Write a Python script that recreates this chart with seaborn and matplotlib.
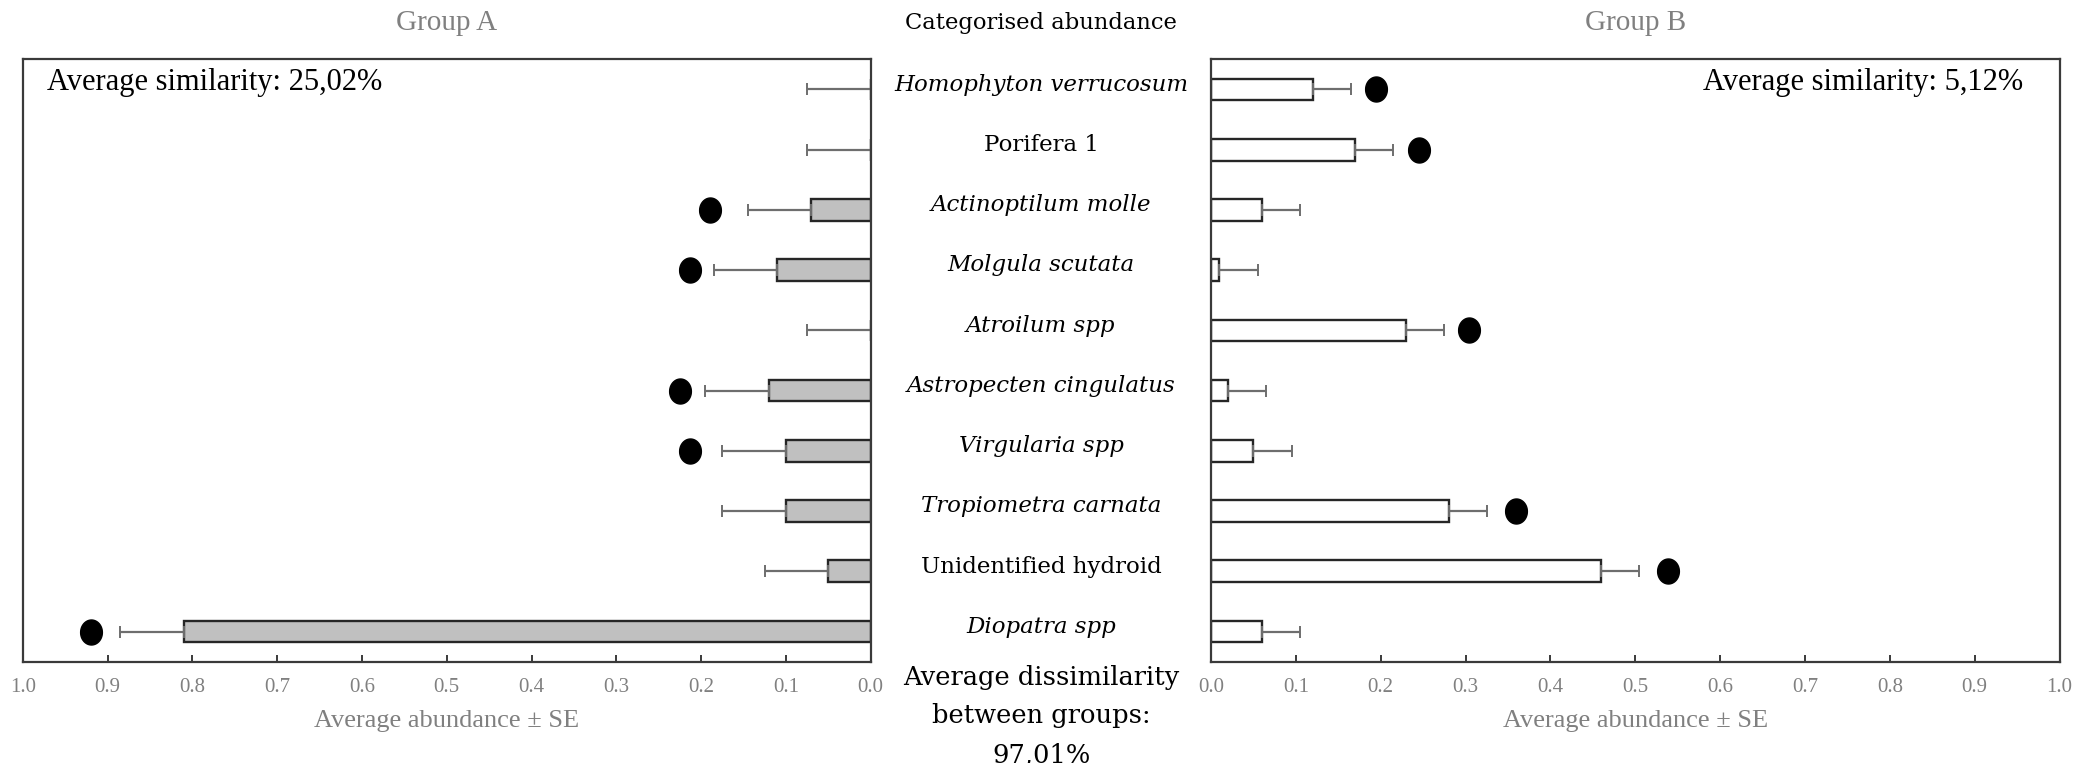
import numpy as np
import pandas as pd
import matplotlib
matplotlib.use("Agg")
import matplotlib.pyplot as plt
import seaborn as sns
from matplotlib import transforms
from matplotlib.path import Path

# ---------------- data ----------------
species = ["Homophyton verrucosum", "Porifera 1", "Actinoptilum molle",
           "Molgula scutata", "Atroilum spp", "Astropecten cingulatus",
           "Virgularia spp", "Tropiometra carnata", "Unidentified hydroid",
           "Diopatra spp"]
species_italic = [True, False, True, True, True, True, True, True, False, True]

group_a_mean = [0.0, 0.0, 0.07, 0.11, 0.0, 0.12, 0.10, 0.10, 0.05, 0.81]
group_a_se = [0.075, 0.075, 0.075, 0.075, 0.075, 0.075, 0.075, 0.075, 0.075, 0.075]
group_a_dot = [np.nan, np.nan, 0.19, 0.213, np.nan, 0.225, 0.213, np.nan, np.nan, 0.92]

group_b_mean = [0.12, 0.17, 0.06, 0.01, 0.23, 0.02, 0.05, 0.28, 0.46, 0.06]
group_b_se = [0.045, 0.045, 0.045, 0.045, 0.045, 0.045, 0.045, 0.045, 0.045, 0.045]
group_b_dot = [0.195, 0.245, np.nan, np.nan, 0.304, np.nan, np.nan, 0.36, 0.539, np.nan]

x_ticks = [0.0, 0.1, 0.2, 0.3, 0.4, 0.5, 0.6, 0.7, 0.8, 0.9, 1.0]
x_tick_labels = ["0.0", "0.1", "0.2", "0.3", "0.4", "0.5", "0.6", "0.7", "0.8", "0.9", "1.0"]

title_a = "Group A"
title_b = "Group B"
similarity_a = "Average similarity: 25,02%"
similarity_b = "Average similarity: 5,12%"
x_label = "Average abundance \u00b1 SE"
middle_title = "Categorised abundance"
dissimilarity = "Average dissimilarity\nbetween groups:\n97,01%"

# ---------------- style ----------------
sns.set_theme(style="white")
plt.rcParams["font.family"] = ["Liberation Serif", "DejaVu Serif"]

W, H = 2086, 763
fig = plt.figure(figsize=(W / 100, H / 100), dpi=100)

def px_axes(x0, x1, ytop, ybot):
    return fig.add_axes([x0 / W, 1 - ybot / H, (x1 - x0) / W, (ybot - ytop) / H])

axA = px_axes(22.7, 870.7, 59.3, 661.7)
axB = px_axes(1211.0, 2059.5, 59.3, 661.7)

df = pd.DataFrame({"species": species,
                   "a": group_a_mean, "a_se": group_a_se, "a_dot": group_a_dot,
                   "b": group_b_mean, "b_se": group_b_se, "b_dot": group_b_dot})

spine_col = "#3a3a3a"
grey_txt = "#808080"
err_col = "#6e6e6e"

# ellipse marker (slightly taller than wide)
t = np.linspace(0, 2 * np.pi, 60)
ell = Path(np.column_stack([0.87 * np.cos(t), np.sin(t)]), closed=True)

def draw_panel(ax, col, fill, se_col, dot_col):
    sns.barplot(data=df, y="species", x=col, order=species, orient="h",
                color=fill, saturation=1, width=0.36, errorbar=None,
                edgecolor="#262626", linewidth=1.7, ax=ax)
    for p in ax.patches:
        p.set_facecolor(fill)
    ypos = np.arange(len(species))
    vals = df[col].to_numpy()
    se = df[se_col].to_numpy()
    ax.errorbar(vals, ypos, xerr=[np.zeros_like(se), se], fmt="none",
                ecolor=err_col, elinewidth=1.6, capsize=4.5, capthick=1.4, zorder=1)
    ax.plot(df[dot_col], ypos, linestyle="none", marker=ell, markersize=18,
            color="black", zorder=4)
    ax.set_ylim(len(species) - 0.5, -0.5)
    ax.set_yticks([])
    ax.set_ylabel("")
    ax.set_xlabel("")
    ax.set_xticks(x_ticks)
    ax.set_xticklabels(x_tick_labels)
    ax.tick_params(axis="x", direction="in", length=5, width=1.4, color=spine_col,
                   labelsize=15, labelcolor=grey_txt, pad=12, bottom=True)
    for s in ax.spines.values():
        s.set_visible(True)
        s.set_color(spine_col)
        s.set_linewidth(1.6)
    ax.text(0.5, -0.098, x_label, transform=ax.transAxes, ha="center", va="center",
            fontsize=19, color=grey_txt)

draw_panel(axA, "a", "#c0c0c0", "a_se", "a_dot")
axA.set_xlim(1.0, 0.0)
draw_panel(axB, "b", "#ffffff", "b_se", "b_dot")
axB.set_xlim(0.0, 1.0)

axA.text(0.5, 1.061, title_a, transform=axA.transAxes, ha="center", va="center",
         fontsize=21, color=grey_txt)
axB.text(0.5, 1.061, title_b, transform=axB.transAxes, ha="center", va="center",
         fontsize=21, color=grey_txt)
axA.text(0.0287, 0.961, similarity_a, transform=axA.transAxes, ha="left", va="center",
         fontsize=22, color="black")
axB.text(0.9576, 0.961, similarity_b, transform=axB.transAxes, ha="right", va="center",
         fontsize=22, color="black")

# middle labels
mid_x = 1041 / W
trans = transforms.blended_transform_factory(fig.transFigure, axA.transData)
for i, (name, it) in enumerate(zip(species, species_italic)):
    fig.text(mid_x, i - 0.08, name, transform=trans, ha="center", va="center",
             fontsize=16.5, fontstyle="italic" if it else "normal",
             family=["DejaVu Serif"], color="black")
fig.text(mid_x, 1 - 22.6 / H, middle_title, ha="center", va="center",
         fontsize=16.3, family=["DejaVu Serif"], color="black")
fig.text(mid_x, 1 - 716 / H, dissimilarity, ha="center", va="center",
         fontsize=18.5, family=["DejaVu Serif"], color="black", linespacing=1.68)

fig.savefig("out.png", dpi=100)
